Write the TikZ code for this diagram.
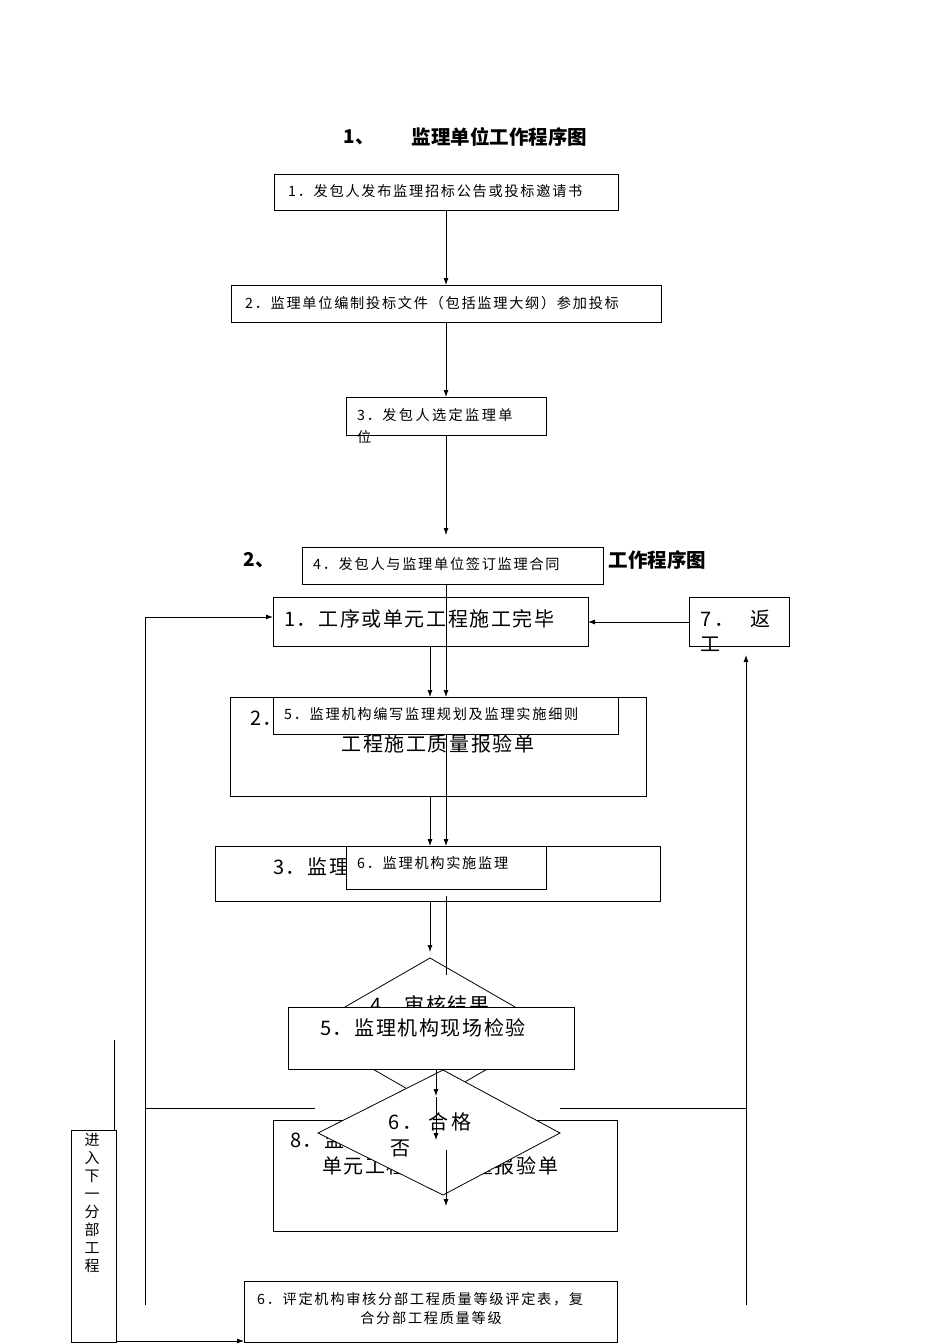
\documentclass[tikz,border=0pt]{standalone}
\usepackage{fontspec}
\setmainfont{Noto Sans CJK SC}
\newfontfamily\smf{Noto Sans CJK SC}[LetterSpace=12]
\newfontfamily\bgf{Noto Sans CJK SC}[LetterSpace=8]
\usetikzlibrary{arrows.meta}
\newcommand\bx[5]{\node[box,anchor=north west,minimum width={(#4-#2)*1pt},minimum height={(#5-#3)*1pt}] (#1) at (#2,#3) {};}
\begin{document}
\begin{tikzpicture}[x=1pt,y=-1pt,
  box/.style={draw,fill=white,inner sep=0,outer sep=0,line width=0.8pt},
  sm/.style={font=\smf\fontsize{14.2}{15}\selectfont,anchor=west,inner sep=0},
  bg/.style={font=\bgf\fontsize{20}{22}\selectfont,anchor=west,inner sep=0},
  ar/.style={-{Latex[length=7pt,width=5pt]},line width=0.8pt},
  ln/.style={line width=0.8pt}]
\useasboundingbox (0,0) rectangle (950,1344);
\node[font=\fontsize{19}{20}\selectfont\bfseries,anchor=west] (t1a) at (340,137) {1、};
\node[font=\fontsize{19.5}{20}\selectfont\bfseries,anchor=west] (t1) at (408,137) {监理单位工作程序图};
\node[font=\fontsize{19}{20}\selectfont\bfseries,anchor=west] (t2a) at (240,560) {2、};
\node[font=\fontsize{19.5}{20}\selectfont\bfseries,anchor=east] (t2b) at (710,560) {工作程序图};
% B series
\bx{b1}{273}{597}{588}{646}
\node[bg] (b1t) at (284,619) {1．工序或单元工程施工完毕};
\bx{b7}{689}{597}{789}{646}
\node[bg] (b7t) at (700,619) {7\,．\hspace{0.8em}返};
\node[bg] (b7u) at (700,644) {工};
\bx{b2}{230}{697}{646}{796}
\node[bg] (b2t) at (250,718) {2．承包人提交工序或单元};
\node[bg,anchor=center] (b2u) at (438,744) {工程施工质量报验单};
\bx{b3}{215}{846}{660}{901}
\node[bg] (b3t) at (273,867) {3．监理机构审核资料完整性};
\draw[ln,fill=white] (430,958) coordinate (d4t) -- (555,1030) -- (430,1102) -- (305,1030) -- cycle;
\node[bg] (d4x) at (370,1005) {4．审核结果};
\bx{b5}{288}{1007}{574}{1069}
\node[bg] (b5t) at (320,1028) {5．监理机构现场检验};
\bx{b8}{273}{1120}{617}{1231}
\node[bg] (b8t) at (290,1140) {8．监理机构签认工序或};
\node[bg] (b8u) at (322,1166) {单元工程施工质量报验单};
\draw[ln,fill=white] (443,1070) coordinate (d6t) -- (560,1133) -- (443,1195) -- (318,1133) -- cycle;
\node[bg] (d6x) at (388,1122) {6\,．\hspace{0.3em}合\,格};
\node[bg] (d6y) at (390,1148) {否};
\bx{c6}{244}{1281}{617}{1342}
\node[sm] (c6t) at (257,1299) {6．评定机构审核分部工程质量等级评定表，复};
\node[sm,anchor=center] (c6u) at (431,1318) {合分部工程质量等级};
\bx{nx}{71}{1130}{116}{1342}
\node[font=\fontsize{15}{18}\selectfont,align=center,inner sep=0] (nxt) at (92,1203) {进\\入\\下\\一\\分\\部\\工\\程};
% B connectors
\coordinate (lt) at (145,1305);
\coordinate (rt) at (746,1305);
\draw[ar] (lt) -- (145,617) -- (b1.west |- 0,617);
\draw[ar] (rt) -- (746,655);
\draw[ar] (689,622) -- (588,622);
\draw[ar] (430,646) -- (430,697);
\draw[ar] (430,796) -- (430,846);
\draw[ar] (430,901) -- (430,952);
\draw[ar] (436,1070) -- (436,1096);
\draw[ar] (436,1097) -- (436,1140);
\draw[ar] (446,1150) -- (446,1206);
\draw[ln] (145,1108) -- (315,1108);
\draw[ln] (560,1108) -- (746,1108);
\draw[ln] (114,1040) -- (114,1130);
\draw[ar] (116,1341) -- (c6.west |- 0,1341);
% A series
\bx{a1}{274}{174}{618}{210}
\node[sm] (a1t) at (288,191) {1．发包人发布监理招标公告或投标邀请书};
\bx{a2}{231}{285}{661}{322}
\node[sm] (a2t) at (245,303) {2．监理单位编制投标文件（包括监理大纲）参加投标};
\bx{a3}{346}{397}{546}{435}
\node[sm] (a3t) at (357,415) {3．\hspace{0.1em}发\,包\,人\,选\,定\,监\,理\,单};
\node[sm] (a3u) at (357,437) {位};
\bx{a4}{302}{547}{603}{584}
\node[sm] (a4t) at (313,564) {4．发包人与监理单位签订监理合同};
\bx{a5}{273}{697}{618}{734}
\node[sm] (a5t) at (284,714) {5．监理机构编写监理规划及监理实施细则};
\bx{a6}{346}{846}{546}{889}
\node[sm] (a6t) at (357,863) {6．监理机构实施监理};
\draw[ar] (446,210) -- (446,285);
\draw[ar] (446,322) -- (446,397);
\draw[ar] (446,435) -- (446,535);
\draw[ar] (446,584) -- (446,697);
\draw[ar] (446,734) -- (446,846);
\draw[ln] (446,896) -- (446,975);
\end{tikzpicture}
\end{document}
